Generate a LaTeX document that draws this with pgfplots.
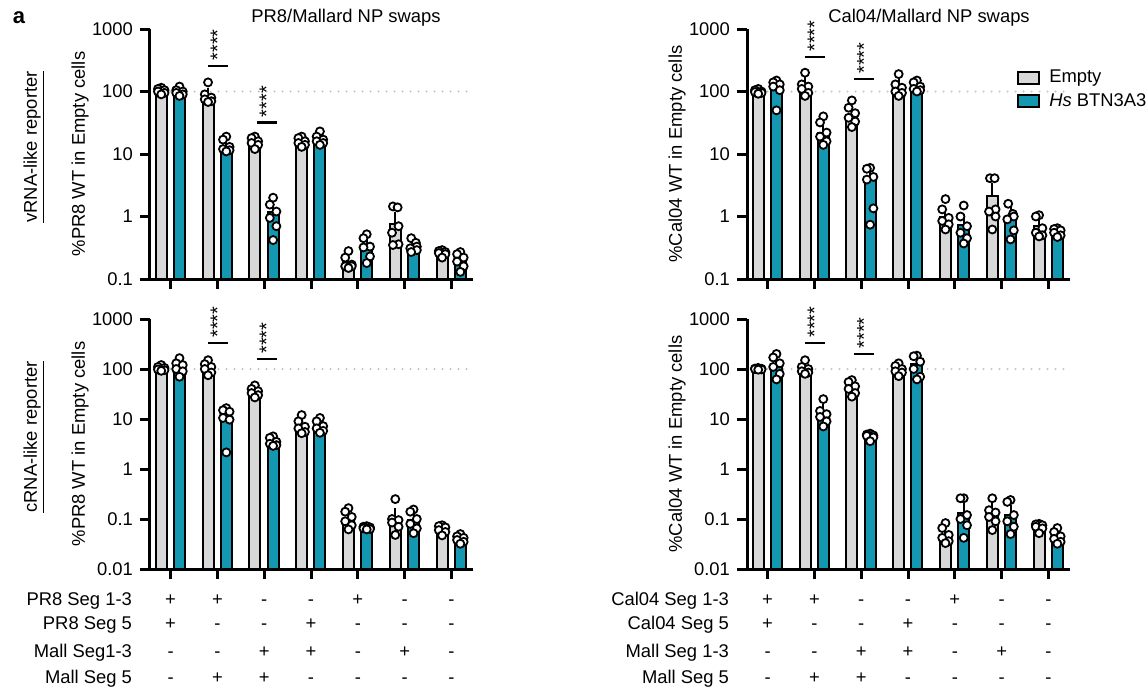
\documentclass[border=0pt]{standalone}
\usepackage{fontspec}
\setmainfont{Liberation Sans}
\usepackage{pgfplots}
\usepackage{pgfplotstable}
\pgfplotsset{compat=1.18}
\definecolor{greyc}{RGB}{216,216,216}
\definecolor{tealc}{RGB}{20,151,177}
\definecolor{dotc}{RGB}{190,190,190}
\newcommand{\fsz}{\fontsize{9.2pt}{11pt}\selectfont}

% ---------- bars: group, Empty mean, SEM, BTN3A3 mean, SEM ----------
\pgfplotstableread{
g E Ee B Be
0 100 4 96 5
1 84 11 13 1.3
2 16 1 1.2 0.25
3 15.5 1 17 1.3
4 0.19 0.03 0.34 0.05
5 0.75 0.22 0.33 0.03
6 0.26 0.01 0.21 0.02
}\barsTL
\pgfplotstableread{
g o E B
0 0 115 120
0 -0.07 110 105
0 0.07 105 100
0 -0.07 100 95
0 0.07 95 90
0 0 90 85
1 0 140 19
1 -0.07 90 17
1 0.07 80 13
1 -0.07 75 12
1 0.07 70 11.5
1 0 68 11
2 0 19 2.0
2 -0.07 18 1.55
2 0.07 16 1.2
2 -0.07 15 0.95
2 0.07 14 0.7
2 0 12 0.42
3 0 19 23
3 -0.07 18 19
3 0.07 16 17
3 -0.07 15 16
3 0.07 14 15
3 0 13 14
4 0 0.28 0.52
4 -0.07 0.22 0.45
4 0.07 0.17 0.33
4 -0.07 0.16 0.32
4 0.07 0.16 0.23
4 0 0.15 0.18
5 -0.05 1.45 0.45
5 0.05 1.4 0.38
5 0.07 0.7 0.33
5 -0.07 0.55 0.31
5 0.07 0.36 0.29
5 -0.05 0.35 0.27
6 0 0.29 0.27
6 -0.07 0.28 0.25
6 0.07 0.27 0.22
6 -0.07 0.26 0.19
6 0.07 0.25 0.16
6 0 0.22 0.13
}\ptsTL

\pgfplotstableread{
g E Ee B Be
0 100 3 118 14
1 125 17 22 4
2 42 7 3.8 0.9
3 120 15 115 8
4 1.0 0.2 0.72 0.17
5 2.1 0.7 1.0 0.17
6 0.7 0.1 0.58 0.03
}\barsTR
\pgfplotstableread{
g o E B
0 0 110 150
0 -0.07 105 140
0 0.07 100 130
0 -0.07 98 120
0 0.07 95 105
0 0 92 50
1 0 200 40
1 -0.07 130 32
1 0.07 120 22
1 -0.07 110 19
1 0.07 95 16
1 0 85 14
2 0 72 6
2 -0.07 55 5.8
2 0.07 45 4.3
2 -0.07 38 3.9
2 0.07 33 1.35
2 0 27 0.74
3 0 190 150
3 -0.07 130 140
3 0.07 115 120
3 -0.07 100 110
3 0.07 95 105
3 0 85 100
4 0 1.9 1.5
4 -0.07 1.3 1.0
4 0.07 0.95 0.7
4 -0.07 0.85 0.55
4 0.07 0.75 0.45
4 0 0.62 0.37
5 -0.05 4.1 1.6
5 0.05 4.1 1.1
5 0.07 1.3 1.0
5 -0.07 1.2 0.9
5 0.07 1.0 0.6
5 0 0.62 0.43
6 0 1.05 0.65
6 -0.07 1.0 0.63
6 0.07 0.65 0.6
6 -0.07 0.55 0.55
6 0.07 0.5 0.5
6 0 0.48 0.47
}\ptsTR

\pgfplotstableread{
g E Ee B Be
0 100 4 110 14
1 110 11 11 2.2
2 36 3 3.4 0.25
3 7.2 1.1 7.2 0.8
4 0.1 0.016 0.065 0.002
5 0.1 0.03 0.095 0.017
6 0.062 0.005 0.04 0.003
}\barsBL
\pgfplotstableread{
g o E B
0 0 120 165
0 -0.07 110 130
0 0.07 105 120
0 -0.07 98 100
0 0.07 95 90
0 0 92 70
1 0 150 16.5
1 -0.07 125 15
1 0.07 110 14
1 -0.07 100 10.5
1 0.07 85 9.7
1 0 75 2.15
2 0 47 4.5
2 -0.07 40 4.2
2 0.07 36 3.5
2 -0.07 33 3.2
2 0.07 30 3.0
2 0 27 2.9
3 0 12 10.5
3 -0.07 9 9
3 0.07 7 7.2
3 -0.07 6.5 6.5
3 0.07 5.5 5.8
3 0 5.2 5.3
4 0 0.165 0.072
4 -0.07 0.14 0.07
4 0.07 0.11 0.068
4 -0.07 0.09 0.065
4 0.07 0.075 0.063
4 0 0.062 0.062
5 0 0.25 0.155
5 -0.07 0.1 0.14
5 0.07 0.095 0.1
5 -0.07 0.085 0.08
5 0.07 0.07 0.065
5 0 0.048 0.052
6 0 0.075 0.05
6 -0.07 0.072 0.045
6 0.07 0.068 0.042
6 -0.07 0.06 0.038
6 0.07 0.055 0.035
6 0 0.047 0.032
}\ptsBL

\pgfplotstableread{
g E Ee B Be
0 100 1.5 120 21
1 100 10 13 2.6
2 44 5 4.6 0.2
3 100 8 125 22
4 0.045 0.008 0.13 0.035
5 0.14 0.025 0.12 0.03
6 0.072 0.004 0.042 0.005
}\barsBR
\pgfplotstableread{
g o E B
0 0 105 200
0 -0.07 102 170
0 0.07 101 130
0 -0.07 100 110
0 0.07 98 80
0 0 97 62
1 0 150 25
1 -0.07 110 14.5
1 0.07 100 12.5
1 -0.07 90 11
1 0.07 85 9
1 0 80 7.1
2 0 60 5.1
2 -0.07 55 4.9
2 0.07 45 4.7
2 -0.07 40 4.6
2 0.07 33 4.3
2 0 28 3.6
3 0 130 185
3 -0.07 115 180
3 0.07 100 140
3 -0.07 90 100
3 0.07 85 70
3 0 72 62
4 0 0.083 0.26
4 -0.07 0.066 0.26
4 0.07 0.048 0.12
4 -0.07 0.042 0.1
4 0.07 0.036 0.075
4 0 0.033 0.042
5 0 0.26 0.24
5 -0.07 0.15 0.22
5 0.07 0.135 0.12
5 -0.07 0.11 0.09
5 0.07 0.09 0.07
5 0 0.06 0.05
6 0 0.08 0.066
6 -0.07 0.078 0.055
6 0.07 0.075 0.045
6 -0.07 0.07 0.04
6 0.07 0.065 0.035
6 0 0.052 0.032
}\ptsBR

\pgfplotsset{
  every axis/.append style={
    scale only axis, width=161.5pt, height=125pt,
    xmin=-0.44, xmax=6.46,
    axis lines*=left, axis line style={line width=1.5pt, -},
    xtick={0,...,6}, xticklabels={,,,,,,},
    tick align=outside, major tick length=5pt,
    tick style={line width=1.5pt, black},
    yminorticks=false, xminorticks=false,
    clip=false,
    tick label style={font=\fsz},
    label style={font=\fsz},
  },
}

\newcommand{\panelplots}[2]{%
  \addplot[dotc, line width=1.1pt, dash pattern=on 0pt off 4pt, line cap=round, forget plot] coordinates {(0,100) (6.46,100)};
  \addplot[ybar, bar shift=0pt, bar width=0.235, draw=black, line width=1pt, fill=greyc, forget plot,
    error bars/y dir=plus, error bars/y explicit,
    error bars/error bar style={line width=1pt, black},
    error bars/error mark options={line width=1pt, black, mark size=2.6pt}]
    table[x expr=\thisrow{g}-0.2, y=E, y error=Ee] {#1};
  \addplot[ybar, bar shift=0pt, bar width=0.235, draw=black, line width=1pt, fill=tealc, forget plot,
    error bars/y dir=plus, error bars/y explicit,
    error bars/error bar style={line width=1pt, black},
    error bars/error mark options={line width=1pt, black, mark size=2.6pt}]
    table[x expr=\thisrow{g}+0.19, y=B, y error=Be] {#1};
  \addplot[only marks, mark=*, mark size=2pt, mark options={fill=white, draw=black, line width=0.9pt}, forget plot]
    table[x expr=\thisrow{g}-0.2+\thisrow{o}, y=E] {#2};
  \addplot[only marks, mark=*, mark size=2pt, mark options={fill=white, draw=black, line width=0.9pt}, forget plot]
    table[x expr=\thisrow{g}+0.19+\thisrow{o}, y=B] {#2};
}
\newcommand{\sig}[2]{%
  \draw[line width=1.3pt] (axis cs:#1-0.21,#2) -- (axis cs:#1+0.22,#2);
  \node[rotate=90, anchor=west, inner sep=2.5pt, font=\fontsize{10pt}{10pt}\selectfont] at (axis cs:#1,#2) {****};
}

\begin{document}
\begin{tikzpicture}[font=\fsz]
\path[use as bounding box] (0,0) rectangle (574pt,-345.5pt);

% top-left
\begin{axis}[at={(75pt,-139.5pt)}, anchor=south west,
  ymode=log, log origin y=infty,
  ymin=0.1, ymax=1000, ytick={0.1,1,10,100,1000}, yticklabels={0.1,1,10,100,1000},
  ylabel={\%PR8 WT in Empty cells},
  ylabel style={at={(axis description cs:-0.2167,0.5)}, anchor=center}]
  \panelplots{\barsTL}{\ptsTL}
  \sig{1}{257}
  \sig{2.05}{32}
\end{axis}

% top-right
\begin{axis}[at={(373.5pt,-139.5pt)}, anchor=south west,
  ymode=log, log origin y=infty,
  ymin=0.1, ymax=1000, ytick={0.1,1,10,100,1000}, yticklabels={0.1,1,10,100,1000},
  ylabel={\%Cal04 WT in Empty cells},
  ylabel style={at={(axis description cs:-0.2167,0.5)}, anchor=center},
  legend style={at={(rel axis cs:0.817,0.87)}, anchor=north west, draw=none,
    fill=none, font=\fsz, row sep=0pt, column sep=2.5pt},
  legend cell align=left]
  \panelplots{\barsTR}{\ptsTR}
  \sig{1}{355}
  \sig{2.06}{158}
  \addlegendimage{legend image code/.code={\draw[fill=greyc, draw=black, line width=1pt] (0pt,-3pt) rectangle (10.5pt,3pt);}}
  \addlegendentry{Empty}
  \addlegendimage{legend image code/.code={\draw[fill=tealc, draw=black, line width=1pt] (0pt,-3pt) rectangle (10.5pt,3pt);}}
  \addlegendentry{\textit{Hs} BTN3A3}
\end{axis}

% bottom-left
\begin{axis}[at={(75pt,-284.5pt)}, anchor=south west,
  ymode=log, log origin y=infty,
  ymin=0.01, ymax=1000, ytick={0.01,0.1,1,10,100,1000}, yticklabels={0.01,0.1,1,10,100,1000},
  ylabel={\%PR8 WT in Empty cells},
  ylabel style={at={(axis description cs:-0.2167,0.5)}, anchor=center}]
  \panelplots{\barsBL}{\ptsBL}
  \sig{1}{331}
  \sig{2.05}{158}
  \pgfplotsinvokeforeach{0,...,6}{\coordinate (L#1) at (axis cs:#1,0.01);}
\end{axis}

% bottom-right
\begin{axis}[at={(373.5pt,-284.5pt)}, anchor=south west,
  ymode=log, log origin y=infty,
  ymin=0.01, ymax=1000, ytick={0.01,0.1,1,10,100,1000}, yticklabels={0.01,0.1,1,10,100,1000},
  ylabel={\%Cal04 WT in Empty cells},
  ylabel style={at={(axis description cs:-0.2167,0.5)}, anchor=center}]
  \panelplots{\barsBR}{\ptsBR}
  \sig{1}{331}
  \sig{2.06}{200}
  \pgfplotsinvokeforeach{0,...,6}{\coordinate (R#1) at (axis cs:#1,0.01);}
\end{axis}

% titles and side labels
\node at (173pt,-9pt) {PR8/Mallard NP swaps};
\node at (464.5pt,-9pt) {Cal04/Mallard NP swaps};
\node[font=\bfseries\fontsize{11pt}{12pt}\selectfont] at (9.5pt,-9pt) {a};
\node[rotate=90] at (17pt,-73.5pt) {\underline{vRNA-like reporter}};
\node[rotate=90] at (17pt,-218.5pt) {\underline{cRNA-like reporter}};

% condition table
\coordinate (r1) at (0,-302.8pt);
\coordinate (r2) at (0,-314.8pt);
\coordinate (r3) at (0,-328.8pt);
\coordinate (r4) at (0,-341.8pt);
\node[anchor=base east] at (69.5pt,-302.8pt) {PR8 Seg 1-3};
\node[anchor=base east] at (69.5pt,-314.8pt) {PR8 Seg 5};
\node[anchor=base east] at (69.5pt,-328.8pt) {Mall Seg1-3};
\node[anchor=base east] at (69.5pt,-341.8pt) {Mall Seg 5};
\node[anchor=base east] at (368pt,-302.8pt) {Cal04 Seg 1-3};
\node[anchor=base east] at (368pt,-314.8pt) {Cal04 Seg 5};
\node[anchor=base east] at (368pt,-328.8pt) {Mall Seg 1-3};
\node[anchor=base east] at (368pt,-341.8pt) {Mall Seg 5};
\foreach \i/\a/\b/\c/\d in {0/+/+/-/-,1/+/-/-/+,2/-/-/+/+,3/-/+/+/-,4/+/-/-/-,5/-/-/+/-,6/-/-/-/-}{
  \node[anchor=base] at (L\i |- r1) {\a};
  \node[anchor=base] at (L\i |- r2) {\b};
  \node[anchor=base] at (L\i |- r3) {\c};
  \node[anchor=base] at (L\i |- r4) {\d};
  \node[anchor=base] at (R\i |- r1) {\a};
  \node[anchor=base] at (R\i |- r2) {\b};
  \node[anchor=base] at (R\i |- r3) {\c};
  \node[anchor=base] at (R\i |- r4) {\d};
}
\end{tikzpicture}
\end{document}
